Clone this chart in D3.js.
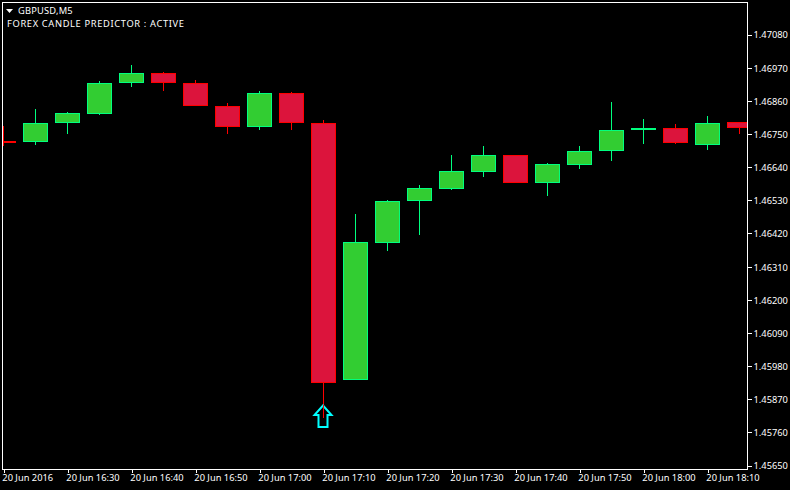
<!DOCTYPE html>
<html><head><meta charset="utf-8">
<script src="https://cdn.jsdelivr.net/npm/d3@7"></script>
<style>html,body{margin:0;padding:0;background:#000;overflow:hidden}svg{display:block}text{font-family:"Noto Sans",sans-serif;font-size:9.3px;fill:#fff}</style>
</head><body><svg id="c" width="790" height="490"></svg>
<script>
const times=["16:20","16:25","16:30","16:35","16:40","16:45","16:50","16:55","17:00","17:05","17:10","17:15","17:20","17:25","17:30","17:35","17:40","17:45","17:50","17:55","18:00","18:05","18:10","18:15"];
const opens =[1.46725,1.46722,1.46785,1.46815,1.46917,1.46951,1.46917,1.46841,1.46771,1.46884,1.46785,1.45932,1.46387,1.46526,1.46566,1.46622,1.46679,1.46586,1.46645,1.46692,1.46765,1.46768,1.46712,1.46788];
const highs =[1.46775,1.46831,1.46821,1.46924,1.46977,1.46954,1.46927,1.46851,1.46891,1.46888,1.46795,1.46483,1.46529,1.46579,1.46679,1.46708,1.46679,1.46652,1.46708,1.46854,1.46798,1.46781,1.46808,1.46788];
const lows  =[1.46708,1.46712,1.46748,1.46811,1.46904,1.46891,1.46841,1.46748,1.46762,1.46762,1.45809,1.45932,1.46360,1.46413,1.46562,1.46606,1.46586,1.46542,1.46632,1.46659,1.46715,1.46715,1.46695,1.46748];
const closes=[1.46722,1.46785,1.46818,1.46917,1.46951,1.46917,1.46841,1.46771,1.46884,1.46785,1.45922,1.46390,1.46526,1.46569,1.46625,1.46679,1.46586,1.46649,1.46692,1.46762,1.46768,1.46718,1.46785,1.46768];
const priceTicks=[1.4708,1.4697,1.4686,1.4675,1.4664,1.4653,1.4642,1.4631,1.462,1.4609,1.4598,1.4587,1.4576,1.4565];
const timeTicks=["16:20","16:30","16:40","16:50","17:00","17:10","17:20","17:30","17:40","17:50","18:00","18:10"];
const timeLabels=["20 Jun 2016","20 Jun 16:30","20 Jun 16:40","20 Jun 16:50","20 Jun 17:00","20 Jun 17:10","20 Jun 17:20","20 Jun 17:30","20 Jun 17:40","20 Jun 17:50","20 Jun 18:00","20 Jun 18:10"];
const signalTime="17:10", signalPrice=1.45849;
const title="GBPUSD,M5", subtitle="FOREX CANDLE PREDICTOR : ACTIVE";

const FONT='"Noto Sans",sans-serif', FS="9.3px";
const svg=d3.select("#c");
const x=d3.scalePoint().domain(times).range([3.5,739.5]);
const y=d3.scaleLinear().domain([1.4708,1.4565]).range([34,465]);
const py=v=>Math.round(y(v))+0.5;
const GREEN="#32CD32",GB="#00FF7F",RED="#DC143C",RB="#FF0000";
svg.append("rect").attr("width",790).attr("height",490).attr("fill","#000");
svg.append("defs").append("clipPath").attr("id","plot").append("rect").attr("x",3).attr("y",3).attr("width",744).attr("height",466);
const g=svg.append("g").attr("clip-path","url(#plot)");
const bars=times.map((t,i)=>({t,o:opens[i],h:highs[i],l:lows[i],c:closes[i],up:closes[i]>opens[i]}));
g.selectAll("line.w").data(bars).join("line").attr("class","w")
 .attr("x1",d=>x(d.t)).attr("x2",d=>x(d.t)).attr("y1",d=>py(d.h)-.5).attr("y2",d=>py(d.l)-.5)
 .attr("stroke",d=>d.up?GB:RB).attr("stroke-width",1).attr("shape-rendering","crispEdges");
g.selectAll("rect.b").data(bars).join("rect").attr("class","b")
 .attr("x",d=>x(d.t)-12).attr("width",24)
 .attr("y",d=>py(Math.max(d.o,d.c))).attr("height",d=>Math.max(1,py(Math.min(d.o,d.c))-py(Math.max(d.o,d.c))-1))
 .attr("fill",d=>d.up?GREEN:RED).attr("stroke",d=>d.up?GB:RB).attr("stroke-width",1).attr("shape-rendering","crispEdges");
// signal arrow
const ax=x(signalTime)-0.5,ay=y(signalPrice);
g.append("path").attr("d",`M${ax},${ay+.5}L${ax+8.5},${ay+10}H${ax+4.5}V${ay+22}H${ax-4.5}V${ay+10}H${ax-8.5}Z`)
 .attr("fill","none").attr("stroke","#00FFFF").attr("stroke-width",2);
g.append("line").attr("x1",ax+.5).attr("x2",ax+.5).attr("y1",ay).attr("y2",py(lows[10])).attr("stroke",RB).attr("shape-rendering","crispEdges");
// frame
svg.append("rect").attr("x",2.5).attr("y",2.5).attr("width",745).attr("height",467).attr("fill","none").attr("stroke","#fff").attr("shape-rendering","crispEdges");
// axes
const ya=svg.append("g").attr("transform","translate(747.5,0)").call(d3.axisRight(y).tickValues(priceTicks).tickFormat(d3.format(".5f")).tickSize(4).tickPadding(2));
ya.select(".domain").remove();
ya.selectAll("line").attr("stroke","#fff").attr("shape-rendering","crispEdges").attr("transform","translate(0,0.5)");
ya.selectAll("text").attr("transform","translate(0,1)").style("font-family",FONT).style("font-size",FS).attr("fill","#fff");
const xa=svg.append("g").attr("transform","translate(0,469.5)").call(d3.axisBottom(x).tickValues(timeTicks).tickFormat((d,i)=>timeLabels[i]).tickSize(3).tickPadding(2));
xa.select(".domain").remove();
xa.selectAll("line").attr("stroke","#fff").attr("shape-rendering","crispEdges");
xa.selectAll("text").attr("text-anchor","start").attr("dx",-1.7).style("font-family",FONT).style("font-size",FS).attr("fill","#fff");
// header
svg.append("path").attr("d","M6,9H13L9.5,13Z").attr("fill","#fff");
svg.append("text").attr("x",18).attr("y",14).style("letter-spacing","0.2px").text(title);
svg.append("text").attr("x",7).attr("y",27).style("letter-spacing","0.65px").text(subtitle);
</script></body></html>
